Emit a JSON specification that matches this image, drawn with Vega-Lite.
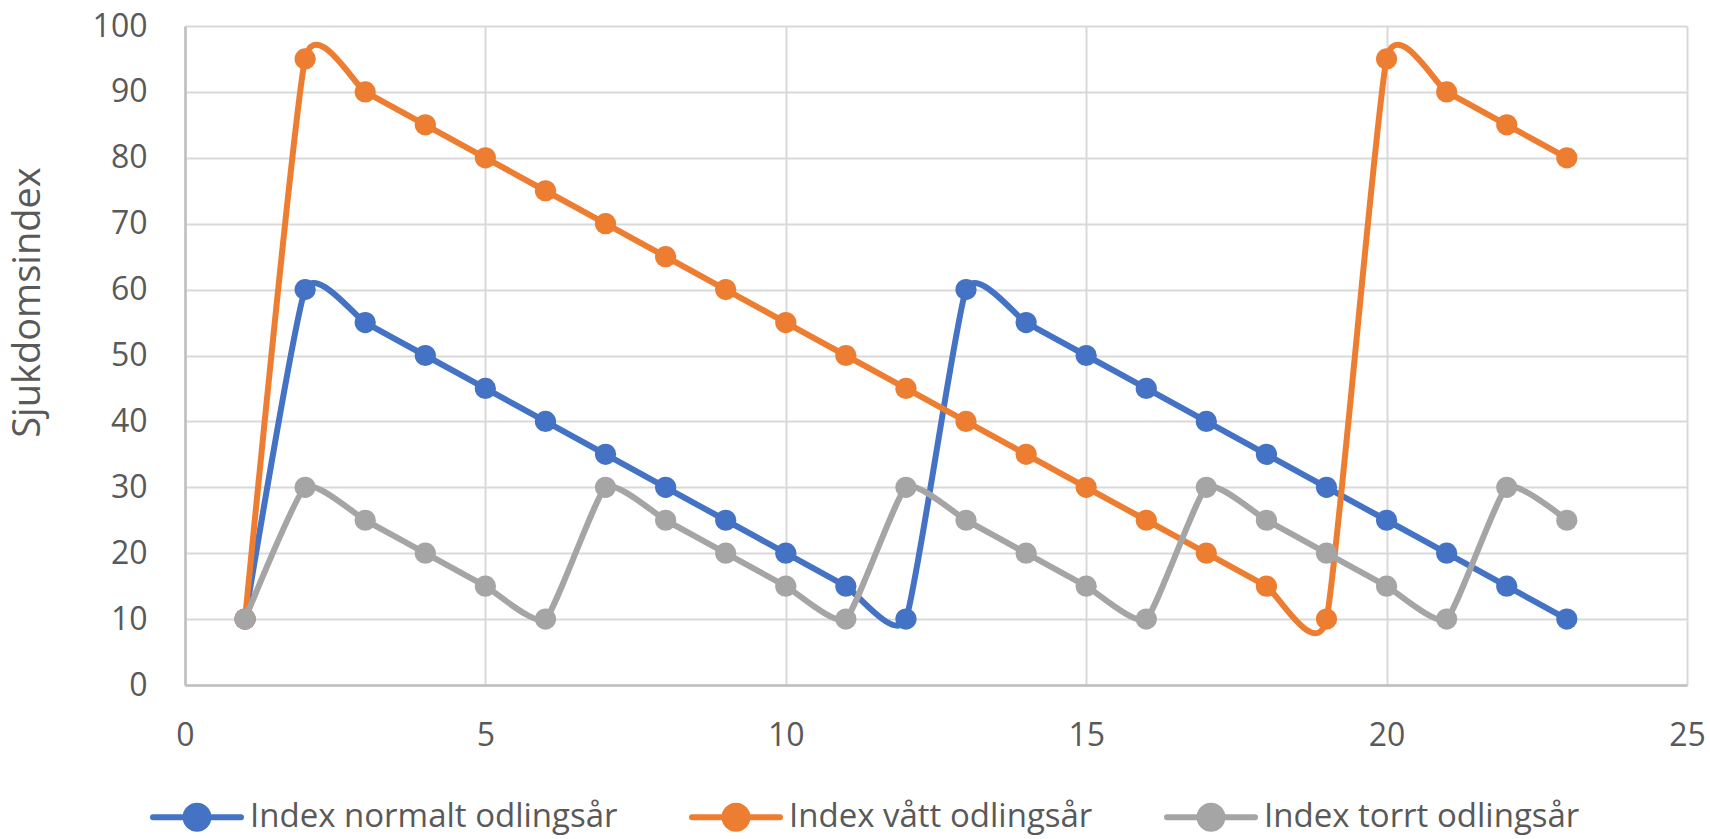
{
  "$schema": "https://vega.github.io/schema/vega-lite/v6.json",
  "width": 1502,
  "height": 659,
  "autosize": "none",
  "padding": {"left": 185, "top": 26, "right": 23, "bottom": 154},
  "background": "white",
  "config": {
    "view": {"stroke": null},
    "font": "Open Sans",
    "axis": {
      "labelFont": "Open Sans",
      "labelFontSize": 32,
      "labelColor": "#595959",
      "titleFont": "Open Sans",
      "titleColor": "#595959",
      "titleFontWeight": "normal",
      "gridColor": "#D9D9D9",
      "gridWidth": 2,
      "domainColor": "#BFBFBF",
      "domainWidth": 2.5,
      "ticks": false
    }
  },
  "data": {
    "values": [
      {"x": 1, "serie": "Index normalt odlingsår", "v": 10},
      {"x": 2, "serie": "Index normalt odlingsår", "v": 60},
      {"x": 3, "serie": "Index normalt odlingsår", "v": 55},
      {"x": 4, "serie": "Index normalt odlingsår", "v": 50},
      {"x": 5, "serie": "Index normalt odlingsår", "v": 45},
      {"x": 6, "serie": "Index normalt odlingsår", "v": 40},
      {"x": 7, "serie": "Index normalt odlingsår", "v": 35},
      {"x": 8, "serie": "Index normalt odlingsår", "v": 30},
      {"x": 9, "serie": "Index normalt odlingsår", "v": 25},
      {"x": 10, "serie": "Index normalt odlingsår", "v": 20},
      {"x": 11, "serie": "Index normalt odlingsår", "v": 15},
      {"x": 12, "serie": "Index normalt odlingsår", "v": 10},
      {"x": 13, "serie": "Index normalt odlingsår", "v": 60},
      {"x": 14, "serie": "Index normalt odlingsår", "v": 55},
      {"x": 15, "serie": "Index normalt odlingsår", "v": 50},
      {"x": 16, "serie": "Index normalt odlingsår", "v": 45},
      {"x": 17, "serie": "Index normalt odlingsår", "v": 40},
      {"x": 18, "serie": "Index normalt odlingsår", "v": 35},
      {"x": 19, "serie": "Index normalt odlingsår", "v": 30},
      {"x": 20, "serie": "Index normalt odlingsår", "v": 25},
      {"x": 21, "serie": "Index normalt odlingsår", "v": 20},
      {"x": 22, "serie": "Index normalt odlingsår", "v": 15},
      {"x": 23, "serie": "Index normalt odlingsår", "v": 10},
      {"x": 1, "serie": "Index vått odlingsår", "v": 10},
      {"x": 2, "serie": "Index vått odlingsår", "v": 95},
      {"x": 3, "serie": "Index vått odlingsår", "v": 90},
      {"x": 4, "serie": "Index vått odlingsår", "v": 85},
      {"x": 5, "serie": "Index vått odlingsår", "v": 80},
      {"x": 6, "serie": "Index vått odlingsår", "v": 75},
      {"x": 7, "serie": "Index vått odlingsår", "v": 70},
      {"x": 8, "serie": "Index vått odlingsår", "v": 65},
      {"x": 9, "serie": "Index vått odlingsår", "v": 60},
      {"x": 10, "serie": "Index vått odlingsår", "v": 55},
      {"x": 11, "serie": "Index vått odlingsår", "v": 50},
      {"x": 12, "serie": "Index vått odlingsår", "v": 45},
      {"x": 13, "serie": "Index vått odlingsår", "v": 40},
      {"x": 14, "serie": "Index vått odlingsår", "v": 35},
      {"x": 15, "serie": "Index vått odlingsår", "v": 30},
      {"x": 16, "serie": "Index vått odlingsår", "v": 25},
      {"x": 17, "serie": "Index vått odlingsår", "v": 20},
      {"x": 18, "serie": "Index vått odlingsår", "v": 15},
      {"x": 19, "serie": "Index vått odlingsår", "v": 10},
      {"x": 20, "serie": "Index vått odlingsår", "v": 95},
      {"x": 21, "serie": "Index vått odlingsår", "v": 90},
      {"x": 22, "serie": "Index vått odlingsår", "v": 85},
      {"x": 23, "serie": "Index vått odlingsår", "v": 80},
      {"x": 1, "serie": "Index torrt odlingsår", "v": 10},
      {"x": 2, "serie": "Index torrt odlingsår", "v": 30},
      {"x": 3, "serie": "Index torrt odlingsår", "v": 25},
      {"x": 4, "serie": "Index torrt odlingsår", "v": 20},
      {"x": 5, "serie": "Index torrt odlingsår", "v": 15},
      {"x": 6, "serie": "Index torrt odlingsår", "v": 10},
      {"x": 7, "serie": "Index torrt odlingsår", "v": 30},
      {"x": 8, "serie": "Index torrt odlingsår", "v": 25},
      {"x": 9, "serie": "Index torrt odlingsår", "v": 20},
      {"x": 10, "serie": "Index torrt odlingsår", "v": 15},
      {"x": 11, "serie": "Index torrt odlingsår", "v": 10},
      {"x": 12, "serie": "Index torrt odlingsår", "v": 30},
      {"x": 13, "serie": "Index torrt odlingsår", "v": 25},
      {"x": 14, "serie": "Index torrt odlingsår", "v": 20},
      {"x": 15, "serie": "Index torrt odlingsår", "v": 15},
      {"x": 16, "serie": "Index torrt odlingsår", "v": 10},
      {"x": 17, "serie": "Index torrt odlingsår", "v": 30},
      {"x": 18, "serie": "Index torrt odlingsår", "v": 25},
      {"x": 19, "serie": "Index torrt odlingsår", "v": 20},
      {"x": 20, "serie": "Index torrt odlingsår", "v": 15},
      {"x": 21, "serie": "Index torrt odlingsår", "v": 10},
      {"x": 22, "serie": "Index torrt odlingsår", "v": 30},
      {"x": 23, "serie": "Index torrt odlingsår", "v": 25}
    ]
  },
  "encoding": {
    "x": {
      "field": "x", "type": "quantitative",
      "scale": {"domain": [0, 25], "nice": false, "zero": false},
      "axis": {"values": [0, 5, 10, 15, 20, 25], "title": null, "labelPadding": 35, "grid": true, "labelFlush": false}
    },
    "y": {
      "field": "v", "type": "quantitative",
      "scale": {"domain": [0, 100], "nice": false},
      "axis": {
        "values": [0, 10, 20, 30, 40, 50, 60, 70, 80, 90, 100],
        "title": "Sjukdomsindex", "titleFontSize": 38,
        "titleX": -157, "titleY": 276, "titleAngle": -90,
        "titleAlign": "center", "titleBaseline": "middle",
        "labelPadding": 38, "grid": true, "labelFlush": false
      }
    },
    "color": {
      "field": "serie", "type": "nominal",
      "scale": {
        "domain": ["Index normalt odlingsår", "Index vått odlingsår", "Index torrt odlingsår"],
        "range": ["#4472C4", "#ED7D31", "#A5A5A5"]
      },
      "legend": {
        "title": null,
        "orient": "none",
        "legendX": -35,
        "legendY": 744,
        "direction": "horizontal",
        "padding": 0,
        "columnPadding": 62,
        "labelFont": "Open Sans",
        "labelFontSize": 33,
        "labelColor": "#595959",
        "labelOffset": 6,
        "labelLimit": 800,
        "symbolType": "M-1,0H1M0.26,0A0.26,0.26,0,1,1,-0.26,0A0.26,0.26,0,1,1,0.26,0Z",
        "symbolSize": 7744,
        "symbolStrokeWidth": 6,
        "encode": {
          "symbols": {
            "update": {
              "shape": {"value": "M-1,0H1M0.26,0A0.26,0.26,0,1,1,-0.26,0A0.26,0.26,0,1,1,0.26,0Z"},
              "size": {"value": 7744},
              "fill": {"scale": "color", "field": "value"},
              "stroke": {"scale": "color", "field": "value"},
              "strokeWidth": {"value": 6},
              "strokeCap": {"value": "round"},
              "opacity": {"value": 1}
            }
          }
        }
      }
    }
  },
  "layer": [
    {"transform": [{"filter": "datum.serie === 'Index normalt odlingsår'"}],
     "mark": {"type": "line", "interpolate": "cardinal", "tension": 0.5, "strokeWidth": 6, "strokeCap": "round"}},
    {"transform": [{"filter": "datum.serie === 'Index normalt odlingsår'"}],
     "mark": {"type": "point", "filled": true, "size": 450, "opacity": 1}},
    {"transform": [{"filter": "datum.serie === 'Index vått odlingsår'"}],
     "mark": {"type": "line", "interpolate": "cardinal", "tension": 0.5, "strokeWidth": 6, "strokeCap": "round"}},
    {"transform": [{"filter": "datum.serie === 'Index vått odlingsår'"}],
     "mark": {"type": "point", "filled": true, "size": 450, "opacity": 1}},
    {"transform": [{"filter": "datum.serie === 'Index torrt odlingsår'"}],
     "mark": {"type": "line", "interpolate": "cardinal", "tension": 0.5, "strokeWidth": 6, "strokeCap": "round"}},
    {"transform": [{"filter": "datum.serie === 'Index torrt odlingsår'"}],
     "mark": {"type": "point", "filled": true, "size": 450, "opacity": 1}}
  ]
}
